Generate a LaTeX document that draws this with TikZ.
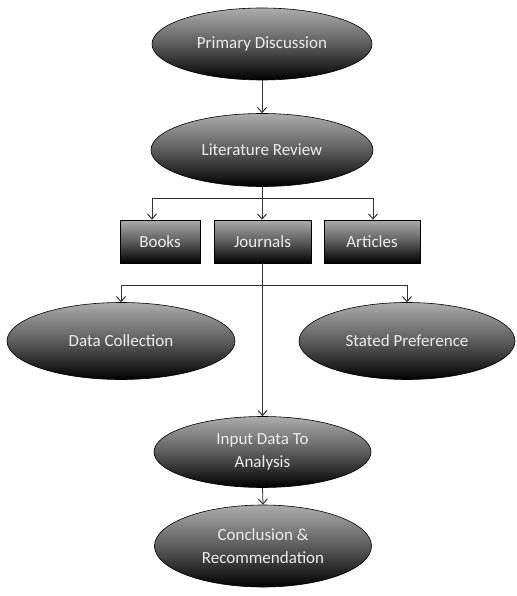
\documentclass[tikz,border=0pt]{standalone}
\usepackage{fontspec}
\setmainfont{Carlito}
\usetikzlibrary{shapes.geometric,arrows.meta}
\definecolor{topg}{RGB}{172,172,172}
\definecolor{midg}{RGB}{92,92,92}
\definecolor{txt}{RGB}{236,236,236}
\tikzset{
  oval/.style={ellipse,draw=black,line width=0.6pt,inner sep=0pt,
    top color=topg,bottom color=black,middle color=midg,
    text=txt,align=center,font=\fontsize{17}{22.5}\selectfont},
  boxn/.style={rectangle,draw=black,line width=0.6pt,inner sep=0pt,
    top color=topg,bottom color=black,middle color=midg,
    text=txt,align=center,font=\fontsize{17}{22}\selectfont,minimum height=43pt},
  arr/.style={draw=black!80,line width=0.8pt,-{Straight Barb[length=5pt,width=9pt,line width=1pt]}},
  ln/.style={draw=black!80,line width=0.8pt}
}
\begin{document}
\begin{tikzpicture}[x=1pt,y=-1pt]
\useasboundingbox (0,0) rectangle (516,596);
\node[oval,minimum width=220pt,minimum height=72pt] (pd) at (262,44) {Primary Discussion};
\node[oval,minimum width=222pt,minimum height=73pt] (lit) at (262,150) {Literature Review};
\node[boxn,minimum width=80pt] (books) at (160,241.5) {Books};
\node[boxn,minimum width=97pt] (jour) at (262.5,241.5) {Journals};
\node[boxn,minimum width=96pt] (art) at (372,241.5) {Articles};
\node[oval,minimum width=228pt,minimum height=77pt] (dc) at (121,341) {Data Collection};
\node[oval,minimum width=216pt,minimum height=77pt] (sp) at (407,341) {Stated Preference};
\node[oval,minimum width=217pt,minimum height=71pt] (inp) at (262.5,452) {Input Data To\\Analysis};
\node[oval,minimum width=217pt,minimum height=82pt] (conc) at (263,546) {Conclusion \&\\Recommendation};
\draw[arr] (pd.south) -- (lit.north);
\draw[ln] (lit.south) -- ++(0,12) coordinate (j1);
\draw[arr] (j1) -| ([xshift=-8pt]books.north);
\draw[arr] (j1) -- (jour.north -| j1);
\draw[arr] (j1) -| ([xshift=1pt]art.north);
\draw[ln] (jour.south) -- ++(0,22) coordinate (j2);
\draw[arr] (j2) -| (dc.north);
\draw[arr] (j2) -| (sp.north);
\draw[arr] (j2) -- (inp.north -| j2);
\draw[arr] (inp.south) -- (conc.north);
\end{tikzpicture}
\end{document}
